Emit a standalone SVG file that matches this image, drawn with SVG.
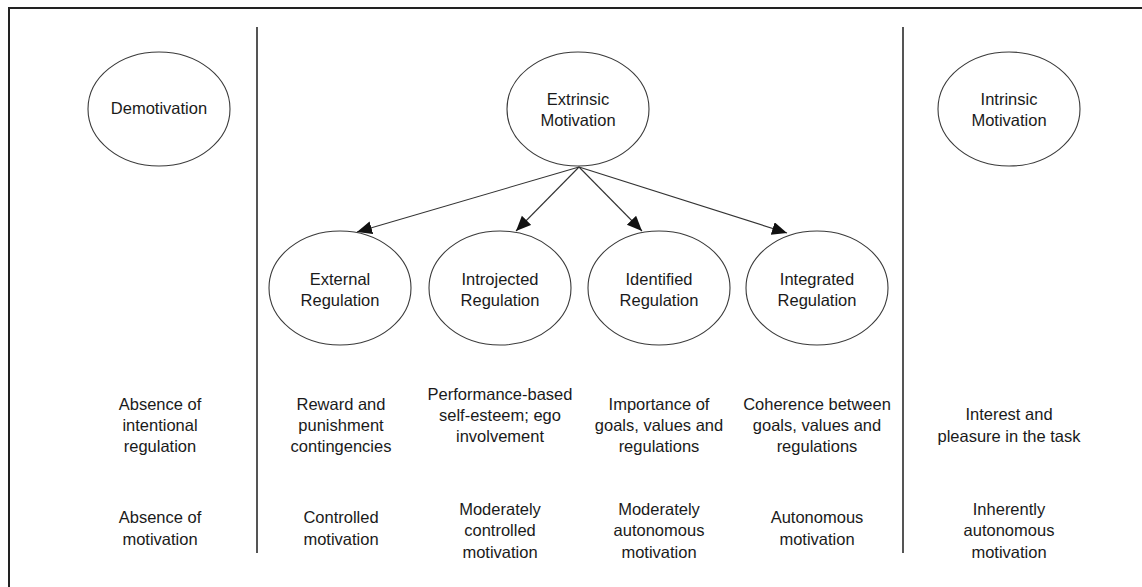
<svg xmlns="http://www.w3.org/2000/svg" width="1142" height="587" viewBox="0 0 1142 587">
  <defs>
    <marker id="arrowhead" markerUnits="userSpaceOnUse" markerWidth="16" markerHeight="14" refX="15" refY="6.5" orient="auto">
      <path d="M0,0 L15,6.5 L0,13 Z" fill="#111"/>
    </marker>
    <style>
      .node ellipse { fill: #fff; stroke: #3a3a3a; stroke-width: 1.1; }
      text { font-family: "Liberation Sans", Arial, sans-serif; font-size: 16.5px; fill: #1a1a1a; text-anchor: middle; }
      .frame { stroke: #222; stroke-width: 2; fill: none; }
      .divider { stroke: #555; stroke-width: 2; }
      .edge { stroke: #333; stroke-width: 1.1; fill: none; marker-end: url(#arrowhead); }
    </style>
  </defs>

  <rect width="1142" height="587" fill="#fff"/>

  <!-- outer frame: top and left edges -->
  <path class="frame" d="M9,587 L9,8 L1142,8"/>

  <!-- column dividers -->
  <line class="divider" x1="257" y1="27" x2="257" y2="553"/>
  <line class="divider" x1="903" y1="27" x2="903" y2="553"/>

  <!-- top row -->
  <g id="demotivation" class="node">
    <ellipse cx="159" cy="109" rx="71" ry="57"/>
    <text x="159" y="114">Demotivation</text>
  </g>
  <g id="extrinsic" class="node">
    <ellipse cx="578" cy="109" rx="71" ry="57"/>
    <text x="578" y="105">Extrinsic</text>
    <text x="578" y="126">Motivation</text>
  </g>
  <g id="intrinsic" class="node">
    <ellipse cx="1009" cy="109" rx="71" ry="57"/>
    <text x="1009" y="105">Intrinsic</text>
    <text x="1009" y="126">Motivation</text>
  </g>

  <!-- regulation types -->
  <g id="external" class="node">
    <ellipse cx="340" cy="288" rx="71" ry="57"/>
    <text x="340" y="285">External</text>
    <text x="340" y="306">Regulation</text>
  </g>
  <g id="introjected" class="node">
    <ellipse cx="500" cy="288" rx="71" ry="57"/>
    <text x="500" y="285">Introjected</text>
    <text x="500" y="306">Regulation</text>
  </g>
  <g id="identified" class="node">
    <ellipse cx="659" cy="288" rx="71" ry="57"/>
    <text x="659" y="285">Identified</text>
    <text x="659" y="306">Regulation</text>
  </g>
  <g id="integrated" class="node">
    <ellipse cx="817" cy="288" rx="71" ry="57"/>
    <text x="817" y="285">Integrated</text>
    <text x="817" y="306">Regulation</text>
  </g>

  <!-- connectors from Extrinsic Motivation -->
  <g id="connectors">
    <line class="edge" x1="579" y1="167" x2="357" y2="232"/>
    <line class="edge" x1="579" y1="167" x2="516" y2="231"/>
    <line class="edge" x1="579" y1="167" x2="642" y2="231"/>
    <line class="edge" x1="579" y1="167" x2="787" y2="233"/>
  </g>

  <!-- regulatory processes -->
  <g id="processes">
    <text x="160" y="410">Absence of</text>
    <text x="160" y="431">intentional</text>
    <text x="160" y="452">regulation</text>

    <text x="341" y="410">Reward and</text>
    <text x="341" y="431">punishment</text>
    <text x="341" y="452">contingencies</text>

    <text x="500" y="400">Performance-based</text>
    <text x="500" y="421">self-esteem; ego</text>
    <text x="500" y="442">involvement</text>

    <text x="659" y="410">Importance of</text>
    <text x="659" y="431">goals, values and</text>
    <text x="659" y="452">regulations</text>

    <text x="817" y="410">Coherence between</text>
    <text x="817" y="431">goals, values and</text>
    <text x="817" y="452">regulations</text>

    <text x="1009" y="420">Interest and</text>
    <text x="1009" y="442">pleasure in the task</text>
  </g>

  <!-- perceived locus of causality -->
  <g id="loci">
    <text x="160" y="523">Absence of</text>
    <text x="160" y="545">motivation</text>

    <text x="341" y="523">Controlled</text>
    <text x="341" y="545">motivation</text>

    <text x="500" y="515">Moderately</text>
    <text x="500" y="536">controlled</text>
    <text x="500" y="558">motivation</text>

    <text x="659" y="515">Moderately</text>
    <text x="659" y="536">autonomous</text>
    <text x="659" y="558">motivation</text>

    <text x="817" y="523">Autonomous</text>
    <text x="817" y="545">motivation</text>

    <text x="1009" y="515">Inherently</text>
    <text x="1009" y="536">autonomous</text>
    <text x="1009" y="558">motivation</text>
  </g>
</svg>
